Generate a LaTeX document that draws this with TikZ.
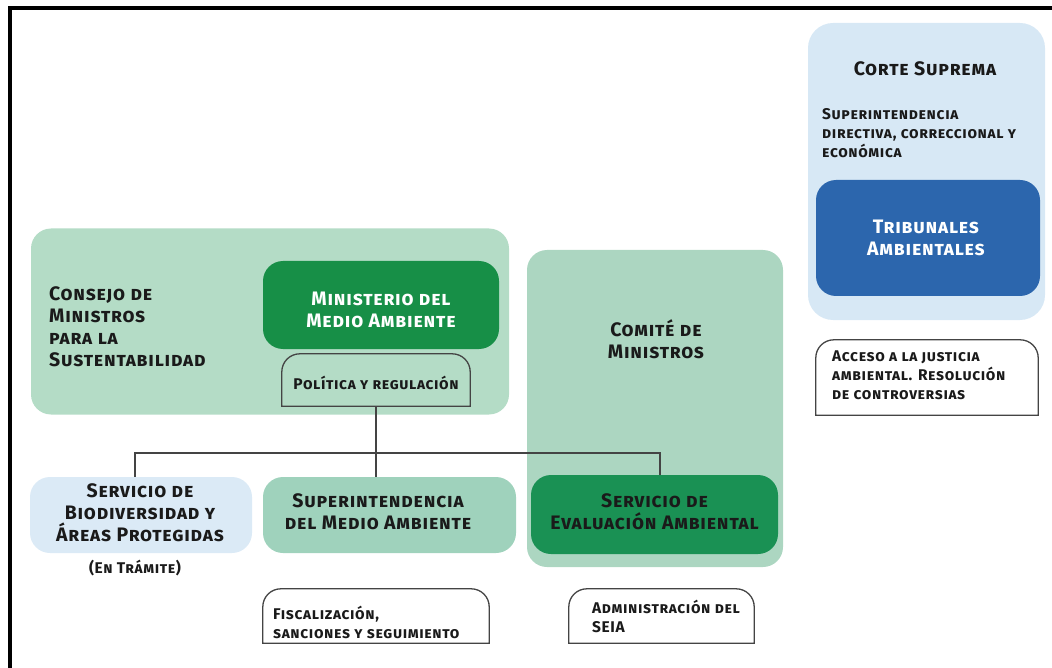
\documentclass[tikz,border=0pt]{standalone}
\usepackage{fontspec}
\setmainfont{Fira Sans}[LetterSpace=4]
\definecolor{consejoC}{HTML}{B4DCC6}
\definecolor{comC}{HTML}{ACD6C1}
\definecolor{minC}{HTML}{178F47}
\definecolor{seaC}{HTML}{1A9154}
\definecolor{supC}{HTML}{9FD2BC}
\definecolor{bioC}{HTML}{DBEAF6}
\definecolor{corC}{HTML}{D7E8F5}
\definecolor{tribC}{HTML}{2C66AD}
\definecolor{lineC}{HTML}{444444}
\definecolor{txtC}{HTML}{1A1A1A}
\tikzset{
  box/.style={rectangle, rounded corners=20pt, inner sep=0pt, draw=none},
  hole/.style={rectangle, inner sep=0pt, draw=none},
  big/.style={font=\bfseries\scshape\fontsize{19.5}{22}\selectfont, text=txtC, inner sep=0pt},
  small/.style={font=\bfseries\scshape\fontsize{15.5}{19}\selectfont, text=txtC, inner sep=0pt},
  conn/.style={draw=lineC, line width=1.4pt},
  outl/.style={draw=lineC, line width=1.3pt}
}
\begin{document}
\begin{tikzpicture}[x=1pt,y=-1pt]
\useasboundingbox (0,0) rectangle (1052,668);
\fill[black] (8,6) rectangle (1052,10);
\fill[black] (8,6) rectangle (12,668);
% background groups
\node[box, fill=consejoC, minimum width=478pt, minimum height=186pt] (consejo) at (270,321.5) {};
\node[box, fill=comC, minimum width=256pt, minimum height=317pt] (comite) at (655,408.5) {};
\node[box, rounded corners=25pt, fill=corC, minimum width=237pt, minimum height=297pt] (corte) at (926.5,171.5) {};
% texts of groups
\node[big, anchor=west, align=left] (consejotxt) at (49,327) {Consejo de\\Ministros\\para la\\Sustentabilidad};
\node[big, align=center] (comitetxt) at (656,339.5) {Comité de\\Ministros};
\node[big] (cortetxt) at (925,69) {Corte Suprema};
\node[small, anchor=west, align=left] (supdir) at (822,133) {Superintendencia\\directiva, correccional y\\económica};
% inner boxes
\node[box, fill=minC, minimum width=236pt, minimum height=88pt] (min) at (381,305) {};
\node[big, text=white, align=center] (mintxt) at (381,310) {Ministerio del\\Medio Ambiente};
\node[box, fill=tribC, minimum width=224pt, minimum height=116pt] (trib) at (928,238) {};
\node[big, text=white, align=center] (tribtxt) at (926,238) {Tribunales\\Ambientales};
\node[box, fill=bioC, minimum width=222pt, minimum height=76pt] (bio) at (141,515) {};
\node[big, align=center] (biotxt) at (140,513) {Servicio de\\Biodiversidad y\\Áreas Protegidas};
\node[small] (tramite) at (135,568) {(En Trámite)};
\node[box, fill=supC, minimum width=253pt, minimum height=76pt] (sup) at (389.5,515) {};
\node[big, align=center] (suptxt) at (378,512) {Superintendencia\\del Medio Ambiente};
\node[box, fill=seaC, minimum width=247pt, minimum height=79pt] (sea) at (654.5,514.5) {};
\node[big, align=center] (seatxt) at (654.5,512) {Servicio de\\Evaluación Ambiental};
% outlined function boxes
\node[hole, minimum width=188pt, minimum height=52pt] (pol) at (376,380) {};
\node[small] (poltxt) at (376,383) {Política y regulación};
\node[hole, minimum width=226pt, minimum height=54pt] (fis) at (376,616) {};
\node[small, anchor=west, align=left] (fistxt) at (273,622) {Fiscalización,\\sanciones y seguimiento};
\node[hole, minimum width=185pt, minimum height=54pt] (adm) at (661.5,616) {};
\node[small, anchor=west, align=left] (admtxt) at (592,616) {Administración del\\SEIA};
\node[hole, minimum width=222pt, minimum height=75pt] (acc) at (927,377.5) {};
\node[small, anchor=west, align=left] (acctxt) at (832,375) {Acceso a la justicia\\ambiental. Resolución\\de controversias};
\foreach \n in {pol,fis,adm,acc}{
  \draw[outl] (\n.south west) -- ([yshift=-18pt]\n.north west) arc[start angle=180,end angle=90,radius=18pt]
    -- ([xshift=-18pt]\n.north east) arc[start angle=90,end angle=0,radius=18pt] -- (\n.south east) -- cycle;
}
% connectors
\coordinate (jl) at (135,453);
\coordinate (jr) at (660,453);
\draw[conn] (pol.south) -- (pol.south |- jl);
\draw[conn] (bio.north -| jl) -- (jl) -- (jr) -- (jr |- sea.north);
\draw[conn] (pol.south |- jl) -- (sup.north -| pol.south);
\end{tikzpicture}
\end{document}
